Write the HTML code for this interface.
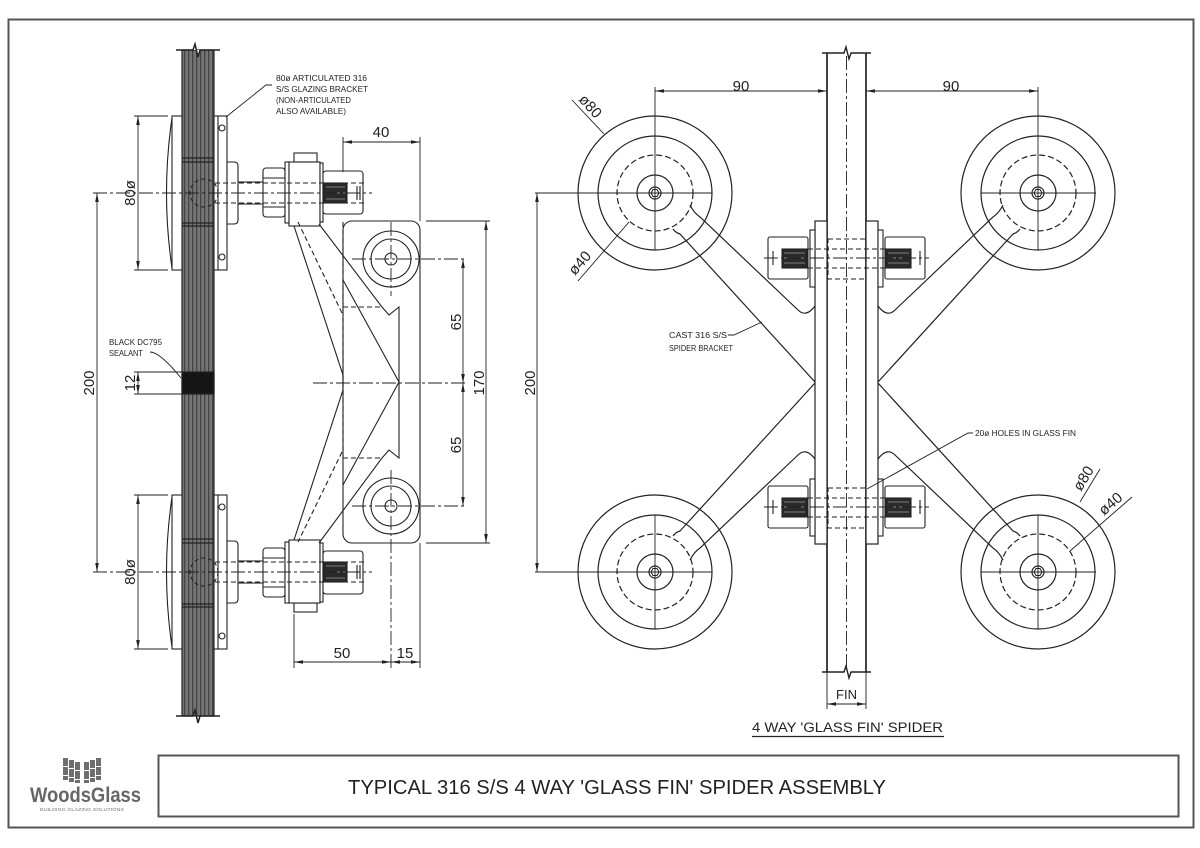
<!DOCTYPE html>
<html><head><meta charset="utf-8"><style>
html,body{margin:0;padding:0;background:#fff;}
svg{display:block;}
text{font-family:"Liberation Sans",Arial,sans-serif;fill:#222;}
</style></head><body>
<svg width="1200" height="848" viewBox="0 0 1200 848" xmlns="http://www.w3.org/2000/svg">
<defs>
<pattern id="gl" width="4" height="10" patternUnits="userSpaceOnUse"><rect width="4" height="10" fill="#767676"/><rect x="0" width="1.3" height="10" fill="#444"/></pattern>
<marker id="ar" viewBox="0 0 10 4" refX="10" refY="2" markerWidth="9" markerHeight="3.6" orient="auto-start-reverse" markerUnits="userSpaceOnUse"><path d="M0,0 L10,2 L0,4z" fill="#222"/></marker>
<g id="wheel" fill="none" stroke="#222" stroke-width="1.2">
<circle r="77"/><circle r="57"/><circle r="38" stroke-dasharray="6 3"/><circle r="18"/><circle r="6"/>
<polygon points="4,0 2,3.5 -2,3.5 -4,0 -2,-3.5 2,-3.5" stroke-width="1"/>
</g>
<g id="bolt" stroke="#222" stroke-width="1.1" fill="#fff">
<rect x="810" y="-28" width="5" height="57"/><rect x="878" y="-28" width="5" height="57"/>
<rect x="768" y="-21" width="40" height="42" rx="2"/><rect x="885" y="-21" width="40" height="42" rx="2"/>
<rect x="782" y="-9" width="25" height="19" fill="#2a2a2a"/><rect x="886" y="-9" width="25" height="19" fill="#2a2a2a"/>
<path d="M784,-5H805M784,0H805M784,5H805M888,-5H909M888,0H909M888,5H909" stroke="#999" stroke-width="0.8"/>
<rect x="828" y="-19" width="38" height="40" fill="none" stroke-dasharray="5 3"/>
<path d="M808,-9H886M808,10H886" fill="none" stroke-dasharray="5 3"/>
<path d="M764,0H929" fill="none" stroke-dasharray="14 3 3 3" stroke-width="0.9"/>
<path d="M773,-7V7M920,-7V7" fill="none"/>
</g>
</defs>
<rect width="1200" height="848" fill="#fff"/>
<!-- frame -->
<rect x="8.5" y="19.5" width="1185" height="808" fill="none" stroke="#555" stroke-width="2"/>
<rect x="158.5" y="755.5" width="1020" height="61" fill="none" stroke="#555" stroke-width="2"/>
<text x="348" y="794" font-size="20" textLength="538" lengthAdjust="spacingAndGlyphs">TYPICAL 316 S/S 4 WAY 'GLASS FIN' SPIDER ASSEMBLY</text>

<!-- logo -->
<g fill="#6e6e6e">
<rect x="63" y="758" width="5" height="8"/><rect x="69" y="760" width="5" height="8"/><rect x="75" y="762" width="5" height="8"/>
<rect x="63" y="767" width="5" height="8"/><rect x="69" y="769" width="5" height="8"/><rect x="75" y="771" width="5" height="8"/>
<rect x="63" y="776" width="5" height="4"/><rect x="69" y="778" width="5" height="4"/><rect x="75" y="780" width="5" height="3"/>
<rect x="84" y="762" width="5" height="8"/><rect x="90" y="760" width="5" height="8"/><rect x="96" y="758" width="5" height="8"/>
<rect x="84" y="771" width="5" height="8"/><rect x="90" y="769" width="5" height="8"/><rect x="96" y="767" width="5" height="8"/>
<rect x="84" y="780" width="5" height="3"/><rect x="90" y="778" width="5" height="4"/><rect x="96" y="776" width="5" height="4"/>
</g>
<text x="30" y="802" font-size="21" font-weight="bold" style="fill:#666" textLength="111" lengthAdjust="spacingAndGlyphs">WoodsGlass</text>
<text x="40" y="811" font-size="4.5" style="fill:#777" textLength="84" lengthAdjust="spacingAndGlyphs">BUILDING GLAZING SOLUTIONS</text>

<!-- ================= LEFT VIEW ================= -->
<g stroke="#222" stroke-width="1.2" fill="none">
<rect x="182" y="50" width="32" height="666" fill="url(#gl)"/>
<rect x="182" y="372" width="32" height="22" fill="#151515"/>
<path d="M176,50H193L195,44L198,57L200,50H220" stroke-width="1.5" fill="#fff"/>
<path d="M176,716H193L195,710L198,723L200,716H220" stroke-width="1.5"/>
<path d="M182,158H214M182,162H214M182,223H214M182,226H214M182,539H214M182,543H214M182,604H214M182,607H214"/>
</g>

<!-- brackets (top cy=193, bottom cy=572) -->
<g stroke="#222" stroke-width="1.1" fill="#fff">
<rect x="172" y="116" width="10" height="154"/>
<path d="M172,118Q161,193 172,268" fill="none"/>
<rect x="214" y="116" width="13" height="154"/>
<path d="M218,116V270" fill="none"/>
<circle cx="222" cy="128" r="3"/><circle cx="222" cy="257" r="3"/>
<path d="M234,162Q238,162 238,166V220Q238,224 234,224H227V162Z"/>
<circle cx="204" cy="193" r="14" fill="none" stroke-dasharray="4 3"/>
<rect x="238" y="182" width="26" height="22"/>
<rect x="263" y="168" width="22" height="49" rx="3"/>
<path d="M263,178H285M263,207H285" fill="none"/>
<rect x="285" y="162" width="4" height="61"/>
<rect x="294" y="153" width="23" height="9"/>
<rect x="289" y="162" width="31" height="64"/>
<rect x="320" y="163" width="3" height="59"/>
<rect x="323" y="171" width="40" height="43" rx="3"/>
<rect x="324" y="183" width="23" height="20" fill="#2a2a2a"/>
<path d="M326,187H345M326,193H345M326,199H345" stroke="#999" stroke-width="0.8" fill="none"/>
<path d="M357,186V200M360,186V200" fill="none"/>
<path d="M215,183H366M215,203H366" fill="none" stroke-dasharray="5 3"/>
<rect x="172" y="495" width="10" height="154"/>
<path d="M172,497Q161,572 172,647" fill="none"/>
<rect x="214" y="495" width="13" height="154"/>
<path d="M218,495V649" fill="none"/>
<circle cx="222" cy="507" r="3"/><circle cx="222" cy="636" r="3"/>
<path d="M234,541Q238,541 238,545V599Q238,603 234,603H227V541Z"/>
<circle cx="204" cy="572" r="14" fill="none" stroke-dasharray="4 3"/>
<rect x="238" y="561" width="26" height="22"/>
<rect x="263" y="548" width="22" height="49" rx="3"/>
<path d="M263,558H285M263,587H285" fill="none"/>
<rect x="285" y="542" width="4" height="61"/>
<rect x="294" y="603" width="23" height="9"/>
<rect x="289" y="540" width="31" height="63"/>
<rect x="320" y="543" width="3" height="59"/>
<rect x="323" y="551" width="40" height="43" rx="3"/>
<rect x="324" y="562" width="23" height="20" fill="#2a2a2a"/>
<path d="M326,566H345M326,572H345M326,578H345" stroke="#999" stroke-width="0.8" fill="none"/>
<path d="M357,565V579M360,565V579" fill="none"/>
<path d="M215,562H366M215,582H366" fill="none" stroke-dasharray="5 3"/>
</g>

<!-- side view spider arm + plate -->
<g stroke="#222" stroke-width="1.1" fill="none">
<rect x="343" y="221" width="77" height="322" rx="9"/>
<path d="M319,224L382,307"/>
<path d="M343,280L399,382L343,485"/>
<path d="M382,458L319,543"/>
<path d="M294,226L343,375V390L294,540"/>
<path d="M298,222L342,313M342,452L298,542M343,222V458" stroke-dasharray="5 3"/>
<path d="M343,307H382M343,458H382" stroke-dasharray="5 3"/>
<path d="M382,307L389,315L399,307V458L389,450L382,458"/>
<circle cx="391" cy="259" r="28"/><circle cx="391" cy="259" r="20"/><circle cx="391" cy="259" r="6"/>
<circle cx="391" cy="506" r="28"/><circle cx="391" cy="506" r="20"/><circle cx="391" cy="506" r="6"/>
</g>
<!-- centerlines left -->
<g stroke="#222" stroke-width="0.9" fill="none" stroke-dasharray="14 3 3 3">
<path d="M93,193H372M93,572H372"/>
<path d="M352,259H466M352,506H466M313,383H466"/>
<path d="M391,222V296M391,470V668"/>
</g>
<!-- dims left -->
<g stroke="#222" stroke-width="0.9" fill="none">
<path d="M343,137V172M420,137V221M420,543V668M294,614V668"/>
<path d="M343,142H420" marker-start="url(#ar)" marker-end="url(#ar)"/>
<path d="M426,221H490M426,543H490"/>
<path d="M486,221V543" marker-start="url(#ar)" marker-end="url(#ar)"/>
<path d="M463,259V383" marker-start="url(#ar)" marker-end="url(#ar)"/>
<path d="M463,383V506" marker-start="url(#ar)" marker-end="url(#ar)"/>
<path d="M294,662H391" marker-start="url(#ar)" marker-end="url(#ar)"/>
<path d="M391,662H420" marker-start="url(#ar)" marker-end="url(#ar)"/>
<path d="M97,193V572" marker-start="url(#ar)" marker-end="url(#ar)"/>
<path d="M134,116H168M134,270H168M134,495H168M134,649H168M134,372H182M134,394H182"/>
<path d="M138,116V270" marker-start="url(#ar)" marker-end="url(#ar)"/>
<path d="M138,495V649" marker-start="url(#ar)" marker-end="url(#ar)"/>
<path d="M138,372V394" marker-start="url(#ar)" marker-end="url(#ar)"/>
<path d="M272,85H266L226,117"/>
<path d="M150,352Q160,352 181,378"/>
</g>
<g font-size="15">
<text x="381" y="137" text-anchor="middle">40</text>
<text x="342" y="658" text-anchor="middle">50</text>
<text x="405" y="658" text-anchor="middle">15</text>
<text transform="translate(484,383) rotate(-90)" text-anchor="middle">170</text>
<text transform="translate(461,322) rotate(-90)" text-anchor="middle">65</text>
<text transform="translate(461,445) rotate(-90)" text-anchor="middle">65</text>
<text transform="translate(94,383) rotate(-90)" text-anchor="middle">200</text>
<text transform="translate(135,193) rotate(-90)" text-anchor="middle">80ø</text>
<text transform="translate(135,572) rotate(-90)" text-anchor="middle">80ø</text>
<text transform="translate(135,383) rotate(-90)" text-anchor="middle">12</text>
</g>
<g font-size="8.5">
<text x="276" y="81" textLength="91" lengthAdjust="spacingAndGlyphs">80ø ARTICULATED 316</text>
<text x="276" y="92" textLength="92" lengthAdjust="spacingAndGlyphs">S/S GLAZING BRACKET</text>
<text x="276" y="103" textLength="75" lengthAdjust="spacingAndGlyphs">(NON-ARTICULATED</text>
<text x="276" y="114" textLength="70" lengthAdjust="spacingAndGlyphs">ALSO AVAILABLE)</text>
<text x="109" y="345" textLength="53" lengthAdjust="spacingAndGlyphs">BLACK DC795</text>
<text x="109" y="356" textLength="34" lengthAdjust="spacingAndGlyphs">SEALANT</text>
</g>

<!-- ================= RIGHT VIEW ================= -->
<g stroke="#222" stroke-width="1.2" fill="none">
<path d="M690,205Q694,213 700,217L798,310Q806,318 815,306"/>
<path d="M673,229Q676,233 680,234L815,382"/>
<path d="M690,560Q694,552 700,548L798,455Q806,447 815,459"/>
<path d="M673,536Q676,532 680,531L815,383"/>
<path d="M1003,205Q999,213 993,217L895,310Q887,318 878,306"/>
<path d="M1020,229Q1017,233 1013,234L878,382"/>
<path d="M1003,560Q999,552 993,548L895,455Q887,447 878,459"/>
<path d="M1020,536Q1017,532 1013,531L878,383"/>
</g>
<use href="#wheel" x="655" y="193"/>
<use href="#wheel" x="1038" y="193"/>
<use href="#wheel" x="655" y="572"/>
<use href="#wheel" x="1038" y="572"/>
<g stroke="#222" fill="none">
<path d="M827,53V672M866,53V672" stroke-width="1.7"/>
<rect x="815" y="221" width="12" height="323" stroke-width="1.2" fill="#fff"/>
<rect x="866" y="221" width="12" height="323" stroke-width="1.2" fill="#fff"/>
<path d="M822,53H844L846,47L849,59L851,53H871" stroke-width="1.4"/>
<path d="M822,672H844L846,666L849,678L851,672H871" stroke-width="1.4"/>
<path d="M846.5,56V670" stroke-width="0.9" stroke-dasharray="14 3 3 3"/>
</g>
<use href="#bolt" x="0" y="258"/>
<use href="#bolt" x="0" y="507"/>
<g stroke="#222" stroke-width="0.9" fill="none">
<path d="M535,193H712M981,193H1096M535,572H712M981,572H1096"/>
<path d="M655,87V250M1038,87V250M655,515V629M1038,515V629"/>
<path d="M655,91H827" marker-start="url(#ar)" marker-end="url(#ar)"/>
<path d="M866,91H1038" marker-start="url(#ar)" marker-end="url(#ar)"/>
<path d="M537,193V572" marker-start="url(#ar)" marker-end="url(#ar)"/>
<path d="M827,672V709M866,672V709"/>
<path d="M827,704H866" marker-start="url(#ar)" marker-end="url(#ar)"/>
<path d="M572,100L604,134"/>
<path d="M578,281L629,222"/>
<path d="M1080,502L1100,469"/>
<path d="M1070,551L1132,497"/>
<path d="M728,335H734L762,322"/>
<path d="M973,433H968L867,489"/>
</g>
<g font-size="15">
<text x="741" y="91" text-anchor="middle">90</text>
<text x="951" y="91" text-anchor="middle">90</text>
<text transform="translate(535,383) rotate(-90)" text-anchor="middle">200</text>
<text transform="translate(578,100) rotate(48)">ø80</text>
<text transform="translate(575,276) rotate(-49)">ø40</text>
<text transform="translate(1081,492) rotate(-59)">ø80</text>
<text transform="translate(1104,516) rotate(-41)">ø40</text>
<text x="846.5" y="699" text-anchor="middle" font-size="13">FIN</text>
</g>
<g font-size="8">
<text x="669" y="338" textLength="58" lengthAdjust="spacingAndGlyphs">CAST 316 S/S</text>
<text x="669" y="351" textLength="64" lengthAdjust="spacingAndGlyphs">SPIDER BRACKET</text>
<text x="975" y="436" textLength="101" lengthAdjust="spacingAndGlyphs">20ø HOLES IN GLASS FIN</text>
</g>
<text x="752" y="732" font-size="13.5" textLength="191" lengthAdjust="spacingAndGlyphs">4 WAY 'GLASS FIN' SPIDER</text>
<path d="M752,736.5H944" stroke="#222" stroke-width="1.2"/>
</svg>
</body></html>
